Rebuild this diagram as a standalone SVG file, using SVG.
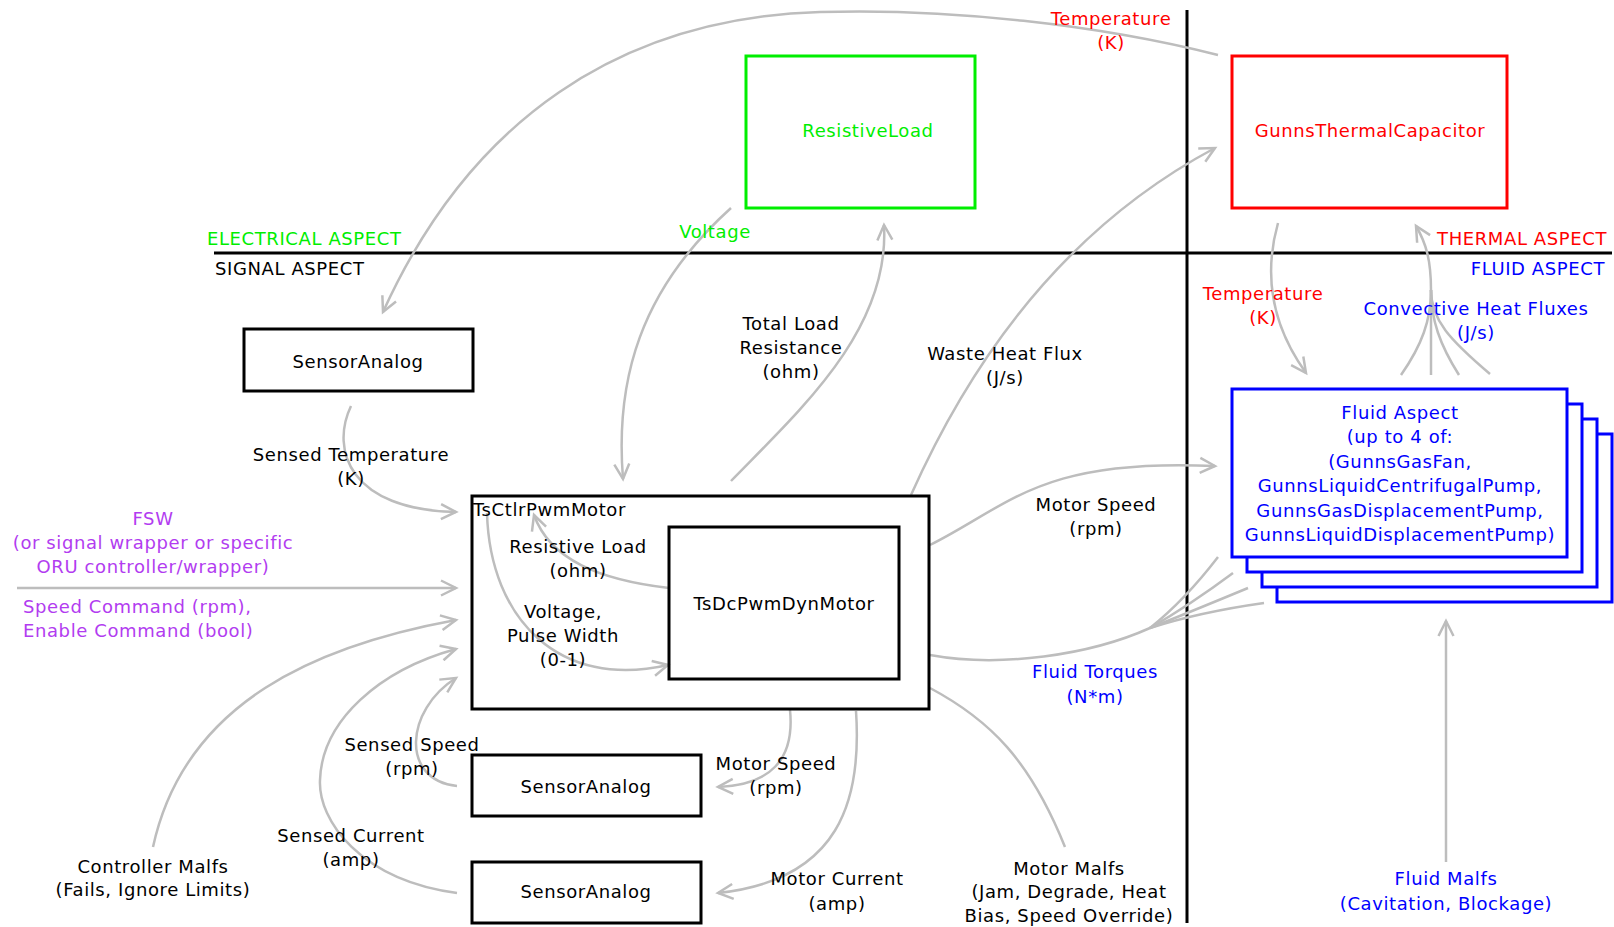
<svg xmlns="http://www.w3.org/2000/svg" width="1614" height="927" viewBox="0 0 1614 927">
<defs>
<marker id="arr" markerUnits="userSpaceOnUse" markerWidth="20" markerHeight="18" viewBox="0 0 20 18" refX="16" refY="9" orient="auto">
<path d="M1,1.5 L16,9 L1,16.5" fill="none" stroke="#bdbdbd" stroke-width="2.5"/>
</marker>
<style>
text{font-family:"DejaVu Sans","Liberation Sans",sans-serif;font-size:18px;letter-spacing:0.6px;text-anchor:middle;fill:#000}
.g{fill:#00ee00}
.r{fill:#ff0000}
.b{fill:#0000ff}
.p{fill:#b23cf0}
.st{text-anchor:start}
.en{text-anchor:end}
.box{fill:none;stroke:#000;stroke-width:3}
.c{fill:none;stroke:#bdbdbd;stroke-width:2.5}
.ca{fill:none;stroke:#bdbdbd;stroke-width:2.5;marker-end:url(#arr)}
.ax{stroke:#000;stroke-width:3;fill:none}
.fl{fill:#fff;stroke:#0000ff;stroke-width:3}
</style>
</defs>
<rect width="1614" height="927" fill="#fff"/>

<g id="axes">
<line class="ax" x1="214" y1="253" x2="1612" y2="253"/>
<line class="ax" x1="1187" y1="10" x2="1187" y2="923"/>
<text class="g st" x="207" y="245">ELECTRICAL ASPECT</text>
<text class="st" x="215" y="275">SIGNAL ASPECT</text>
<text class="r en" x="1607" y="245">THERMAL ASPECT</text>
<text class="b en" x="1605" y="275">FLUID ASPECT</text>
</g>

<g id="connectors">
<path class="ca" d="M1218,55 C1100,25 950,8 820,12 C620,18 470,120 383,312"/>
<path class="ca" d="M731,208 C640,290 615,380 623,479"/>
<path class="ca" d="M731,481 C800,410 890,330 884,225"/>
<path class="ca" d="M911,495 C980,340 1080,220 1215,148"/>
<path class="ca" d="M351,406 C330,450 350,510 456,512"/>
<path class="ca" d="M17,588 L456,588"/>
<path class="ca" d="M153,847 C185,700 320,645 456,620"/>
<path class="ca" d="M457,893 C360,880 318,820 320,780 C322,720 380,670 456,649"/>
<path class="ca" d="M457,786 C400,780 405,710 456,678"/>
<path class="ca" d="M790,710 C795,760 770,785 718,787"/>
<path class="ca" d="M856,711 C862,800 840,880 718,893"/>
<path class="ca" d="M930,545 C1010,505 1040,458 1215,466"/>
<path class="c" d="M1218,557 Q1185,600 1150,628 C1090,655 1000,668 930,655"/>
<path class="c" d="M1233,573 Q1190,605 1150,628"/>
<path class="c" d="M1248,588 Q1195,610 1150,628"/>
<path class="c" d="M1264,603 Q1200,612 1150,628"/>
<path class="c" d="M1065,847 C1030,760 990,720 930,688"/>
<path class="ca" d="M669,588 C600,580 550,560 534,515"/>
<path class="ca" d="M487,513 C490,620 560,690 668,665"/>
<path class="ca" d="M1278,223 C1262,280 1275,330 1306,373"/>
<path class="ca" d="M1431,290 C1431,260 1426,243 1416,226"/>
<path class="c" d="M1401,375 C1422,345 1431,320 1431,290"/>
<path class="c" d="M1431,375 L1431,290"/>
<path class="c" d="M1459,375 C1440,345 1431,320 1431,290"/>
<path class="c" d="M1490,374 C1450,340 1431,320 1431,290"/>
<path class="ca" d="M1446,862 L1446,621"/>
</g>

<g id="labels">
<text class="r" x="1111" y="25">Temperature</text>
<text class="r" x="1111" y="49">(K)</text>
<text class="g" x="715" y="238">Voltage</text>
<text x="791" y="330">Total Load</text>
<text x="791" y="354">Resistance</text>
<text x="791" y="378">(ohm)</text>
<text x="1005" y="360">Waste Heat Flux</text>
<text x="1005" y="384">(J/s)</text>
<text class="r" x="1263" y="300">Temperature</text>
<text class="r" x="1263" y="324">(K)</text>
<text class="b" x="1476" y="315">Convective Heat Fluxes</text>
<text class="b" x="1476" y="339">(J/s)</text>
<text x="351" y="461">Sensed Temperature</text>
<text x="351" y="485">(K)</text>
<text class="p" x="153" y="525">FSW</text>
<text class="p" x="153" y="549">(or signal wrapper or specific</text>
<text class="p" x="153" y="573">ORU controller/wrapper)</text>
<text class="p st" x="23" y="613">Speed Command (rpm),</text>
<text class="p st" x="23" y="637">Enable Command (bool)</text>
<text x="1096" y="511">Motor Speed</text>
<text x="1096" y="535">(rpm)</text>
<text class="b" x="1095" y="678">Fluid Torques</text>
<text class="b" x="1095" y="703">(N*m)</text>
<text x="412" y="751">Sensed Speed</text>
<text x="412" y="775">(rpm)</text>
<text x="776" y="770">Motor Speed</text>
<text x="776" y="794">(rpm)</text>
<text x="351" y="842">Sensed Current</text>
<text x="351" y="866">(amp)</text>
<text x="837" y="885">Motor Current</text>
<text x="837" y="910">(amp)</text>
<text x="153" y="873">Controller Malfs</text>
<text x="153" y="896">(Fails, Ignore Limits)</text>
<text x="1069" y="875">Motor Malfs</text>
<text x="1069" y="898">(Jam, Degrade, Heat</text>
<text x="1069" y="922">Bias, Speed Override)</text>
<text class="b" x="1446" y="885">Fluid Malfs</text>
<text class="b" x="1446" y="910">(Cavitation, Blockage)</text>
<text x="578" y="553">Resistive Load</text>
<text x="578" y="577">(ohm)</text>
<text x="563" y="618">Voltage,</text>
<text x="563" y="642">Pulse Width</text>
<text x="563" y="666">(0-1)</text>
</g>

<g id="resistiveLoad">
<rect x="746" y="56" width="229" height="152" fill="none" stroke="#00ee00" stroke-width="3"/>
<text class="g" x="868" y="137">ResistiveLoad</text>
</g>

<g id="gunnsThermalCapacitor">
<rect x="1232" y="56" width="275" height="152" fill="none" stroke="#ff0000" stroke-width="3"/>
<text class="r" x="1370" y="137">GunnsThermalCapacitor</text>
</g>

<g id="sensorAnalogTemp">
<rect class="box" x="244" y="329" width="229" height="62"/>
<text x="358" y="368">SensorAnalog</text>
</g>

<g id="tsCtlrPwmMotor">
<rect class="box" x="472" y="496" width="457" height="213"/>
<text class="st" x="473" y="516">TsCtlrPwmMotor</text>
</g>

<g id="tsDcPwmDynMotor">
<rect class="box" x="669" y="527" width="230" height="152"/>
<text x="784" y="610">TsDcPwmDynMotor</text>
</g>

<g id="sensorAnalogSpeed">
<rect class="box" x="472" y="755" width="229" height="61"/>
<text x="586" y="793">SensorAnalog</text>
</g>

<g id="sensorAnalogCurrent">
<rect class="box" x="472" y="862" width="229" height="61"/>
<text x="586" y="898">SensorAnalog</text>
</g>

<g id="fluidAspect">
<rect class="fl" x="1277" y="434" width="335" height="168"/>
<rect class="fl" x="1262" y="419" width="335" height="168"/>
<rect class="fl" x="1247" y="404" width="335" height="168"/>
<rect class="fl" x="1232" y="389" width="335" height="168"/>
<text class="b" x="1400" y="419">Fluid Aspect</text>
<text class="b" x="1400" y="443">(up to 4 of:</text>
<text class="b" x="1400" y="468">(GunnsGasFan,</text>
<text class="b" x="1400" y="492">GunnsLiquidCentrifugalPump,</text>
<text class="b" x="1400" y="517">GunnsGasDisplacementPump,</text>
<text class="b" x="1400" y="541">GunnsLiquidDisplacementPump)</text>
</g>
</svg>
